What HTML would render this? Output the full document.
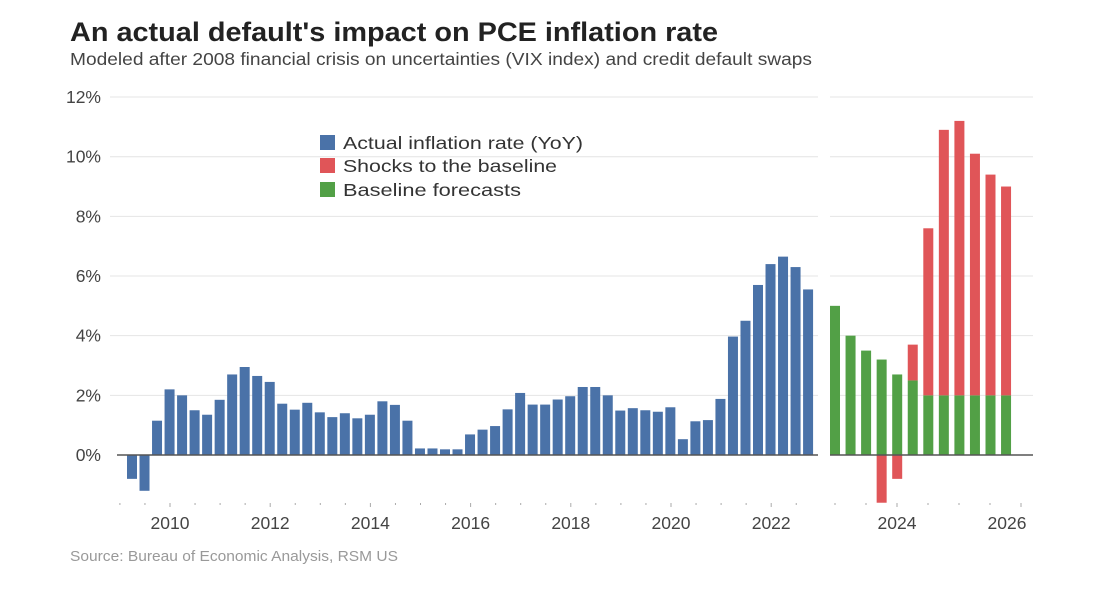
<!DOCTYPE html>
<html><head><meta charset="utf-8"><style>
body{margin:0;background:#fff;width:1098px;height:587px;overflow:hidden;font-family:"Liberation Sans",sans-serif}
</style></head><body>
<svg width="1098" height="587" xmlns="http://www.w3.org/2000/svg">
<text x="70" y="41" font-size="27" font-weight="bold" fill="#222" textLength="648" lengthAdjust="spacingAndGlyphs">An actual default's impact on PCE inflation rate</text>
<text x="70" y="65" font-size="17.5" fill="#444" textLength="742" lengthAdjust="spacingAndGlyphs">Modeled after 2008 financial crisis on uncertainties (VIX index) and credit default swaps</text>
<g id="grid"></g><g id="bars"></g><g id="axes"></g>
<g>
<rect x="320" y="135" width="15" height="15" fill="#4a72a8"/>
<text x="343" y="149" font-size="17.5" fill="#333" textLength="240" lengthAdjust="spacingAndGlyphs">Actual inflation rate (YoY)</text>
<rect x="320" y="158" width="15" height="15" fill="#e05558"/>
<text x="343" y="172" font-size="17.5" fill="#333" textLength="214" lengthAdjust="spacingAndGlyphs">Shocks to the baseline</text>
<rect x="320" y="182" width="15" height="15" fill="#52a046"/>
<text x="343" y="196" font-size="17.5" fill="#333" textLength="178" lengthAdjust="spacingAndGlyphs">Baseline forecasts</text>
</g>
<text x="70" y="561" font-size="15" fill="#999" textLength="328" lengthAdjust="spacingAndGlyphs">Source: Bureau of Economic Analysis, RSM US</text>
</svg>
<script>
const actual=[-0.8,-1.2,1.15,2.2,2.0,1.5,1.35,1.85,2.7,2.95,2.65,2.45,1.72,1.52,1.75,1.43,1.27,1.4,1.23,1.35,1.8,1.68,1.15,0.22,0.22,0.19,0.19,0.69,0.85,0.97,1.53,2.08,1.69,1.69,1.86,1.97,2.28,2.28,2.0,1.49,1.57,1.5,1.45,1.6,0.53,1.13,1.17,1.88,3.97,4.5,5.7,6.4,6.65,6.3,5.55];
const baseline=[5.0,4.0,3.5,3.2,2.7,2.5,2,2,2,2,2,2];
const shocks=[0,0,0,-1.6,-0.8,1.2,5.6,8.9,9.2,8.1,7.4,7.0];
const yTicks=[0,2,4,6,8,10,12];
const leftYears=[2010,2012,2014,2016,2018,2020,2022];
const rightYears=[2024,2026];
const NS='http://www.w3.org/2000/svg';
const y=v=>455-v*29.83;
const xL=i=>132+i*12.52;
const xR=i=>835+i*15.55;
const yrL=yr=>170+(yr-2010)*50.1;
const yrR=yr=>897+(yr-2024)*62;
function mk(tag,attrs,parent){const e=document.createElementNS(NS,tag);for(const k in attrs)e.setAttribute(k,attrs[k]);document.getElementById(parent).appendChild(e);return e;}
yTicks.forEach(t=>{
  if(t>0){
    let g1=mk('line',{x1:110,x2:818,y1:y(t),y2:y(t),stroke:'#e4e4e4','stroke-width':1},'grid');
    
    
    let g2=mk('line',{x1:830,x2:1033,y1:y(t),y2:y(t),stroke:'#e4e4e4','stroke-width':1},'grid');
    
    
  }
  let tx=mk('text',{x:101,y:y(t)+6,'text-anchor':'end','font-size':17.5,fill:'#444'},'axes');
  tx.textContent=t+'%';
  
  
});
actual.forEach((v,i)=>{
  let r=mk('rect',{x:xL(i)-5,width:10,y:Math.min(y(v),y(0)),height:Math.abs(y(v)-y(0)),fill:'#4a72a8'},'bars');
  
  
});
baseline.forEach((v,i)=>{
  let r=mk('rect',{x:xR(i)-5,width:10,y:y(v),height:y(0)-y(v),fill:'#52a046'},'bars');
  
  
  const s=shocks[i];
  if(s!==0){
    let top=s>0?y(v+s):y(0), h=s>0?y(v)-y(v+s):y(s)-y(0);
    let r2=mk('rect',{x:xR(i)-5,width:10,y:top,height:h,fill:'#e05558'},'bars');
    
    
  }
});
let b1=mk('line',{x1:117,x2:818,y1:y(0),y2:y(0),stroke:'#555','stroke-width':1.5},'axes');


let b2=mk('line',{x1:830,x2:1033,y1:y(0),y2:y(0),stroke:'#555','stroke-width':1.5},'axes');


for(let k=-3;k<=26;k++){const x=170+k*25.05;if(x<115||x>815)continue;
  let t=mk('line',{x1:x,x2:x,y1:503,y2:k%4===0?507:505,stroke:'#aaa','stroke-width':1},'axes');
  
  }
for(let k=-2;k<=4;k++){const x=897+k*31;
  let t=mk('line',{x1:x,x2:x,y1:503,y2:k%4===0?507:505,stroke:'#aaa','stroke-width':1},'axes');
  
  }
leftYears.forEach(yr=>{let t=mk('text',{x:yrL(yr),y:529,'text-anchor':'middle','font-size':17.5,fill:'#444'},'axes');t.textContent=yr;
  
  });
rightYears.forEach(yr=>{let t=mk('text',{x:Math.min(yrR(yr),1007),y:529,'text-anchor':'middle','font-size':17.5,fill:'#444'},'axes');t.textContent=yr;
  
  });
</script>
</body></html>
